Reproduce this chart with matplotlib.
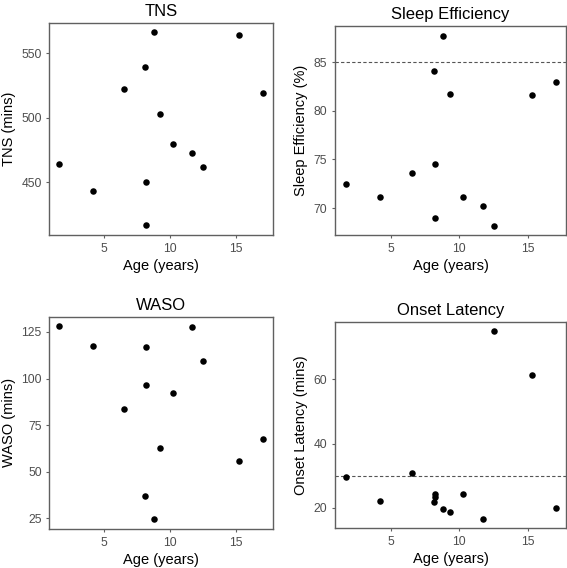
import matplotlib
matplotlib.use("Agg")
import matplotlib.pyplot as plt
import numpy as np

plt.rcParams['font.family'] = ['Liberation Sans', 'DejaVu Sans']

age = [1.65, 4.2, 6.55, 8.13, 8.2, 8.2, 8.8, 9.3, 10.26, 11.7, 12.53, 15.3, 17.05]
tns = [463.7, 443.3, 521.9, 539.7, 450.3, 416.5, 566.2, 502.8, 479.9, 472.9, 461.6, 564.4, 519.3]
sleep_eff = [72.42, 71.13, 73.62, 84.06, 74.5, 69.0, 87.75, 81.7, 71.1, 70.24, 68.2, 81.6, 83.0]
waso = [128.0, 117.5, 83.9, 36.8, 117.0, 96.3, 24.5, 62.7, 92.2, 127.5, 109.3, 55.7, 67.5]
onset = [29.7, 22.2, 30.8, 21.8, 24.5, 23.3, 19.6, 18.7, 24.4, 16.6, 75.0, 61.3, 19.9]

panels = [
    ("TNS", "TNS (mins)", tns, None, [450, 500, 550]),
    ("Sleep Efficiency", "Sleep Efficiency (%)", sleep_eff, 85, [70, 75, 80, 85]),
    ("WASO", "WASO (mins)", waso, None, [25, 50, 75, 100, 125]),
    ("Onset Latency", "Onset Latency (mins)", onset, 30, [20, 40, 60]),
]
x_ticks = [5, 10, 15]

W, H = 567, 568
boxes = [  # left, top, right, bottom in pixels
    (49.3, 22.7, 272.7, 235.0),
    (335.0, 26.0, 566.0, 235.0),
    (49.3, 316.7, 272.7, 529.0),
    (335.0, 321.7, 566.0, 528.3),
]

fig = plt.figure(figsize=(W / 100, H / 100), dpi=100)
fig.patch.set_facecolor('white')

def expand(vals):
    lo, hi = min(vals), max(vals)
    r = hi - lo
    return lo - 0.05 * r, hi + 0.05 * r

spine_col = '#606060'
for (title, ylabel, vals, hline, yt), (l, t, r, b) in zip(panels, boxes):
    ax = fig.add_axes([l / W, 1 - b / H, (r - l) / W, (b - t) / H])
    ax.scatter(age, vals, s=22, color='black', zorder=3, linewidths=0)
    if hline is not None:
        ax.axhline(hline, color='#555555', lw=0.8, ls=(0, (3, 2)), zorder=2)
    ax.set_xlim(*expand(age))
    ax.set_ylim(*expand(vals))
    ax.set_xticks(x_ticks)
    ax.set_yticks(yt)
    ax.set_title(title, fontsize=12, pad=5, color='black')
    ax.set_xlabel("Age (years)", fontsize=10.5, labelpad=3, color='black')
    ax.set_ylabel(ylabel, fontsize=10.5, labelpad=4, color='black')
    for s in ax.spines.values():
        s.set_color(spine_col)
        s.set_linewidth(1.0)
    ax.tick_params(axis='both', length=2.5, width=0.8, color=spine_col,
                   labelsize=8.7, labelcolor='#4d4d4d', pad=3)

fig.savefig("out.png", dpi=100, facecolor='white')
